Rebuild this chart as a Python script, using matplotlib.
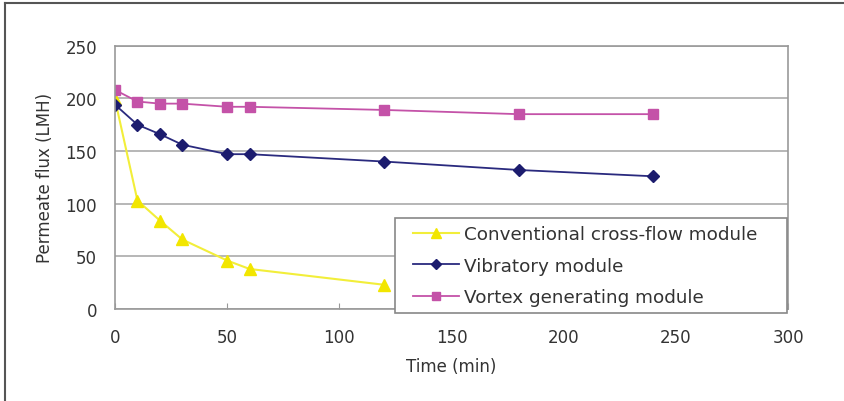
import matplotlib
matplotlib.use("Agg")
import matplotlib.pyplot as plt
from matplotlib.lines import Line2D
from matplotlib.patches import Rectangle

# Data
time_conv = [0, 10, 20, 30, 50, 60, 120]
flux_conv = [199, 103, 84, 66, 46, 38, 23]

time_vib = [0, 10, 20, 30, 50, 60, 120, 180, 240]
flux_vib = [194, 175, 166, 156, 147, 147, 140, 132, 126]

time_vortex = [0, 10, 20, 30, 50, 60, 120, 180, 240]
flux_vortex = [208, 197, 195, 195, 192, 192, 189, 185, 185]

labels = ["Conventional cross-flow module", "Vibratory module", "Vortex generating module"]

plt.rcParams["font.family"] = ["DejaVu Sans"]

W, H = 845, 402
fig = plt.figure(figsize=(W / 100, H / 100), dpi=100)
ax = fig.add_axes([115 / W, 1 - 310 / H, 673 / W, 263.3 / H])

ax.plot(time_conv, flux_conv, color="#F2EE3A", linewidth=1.5, marker="^",
        markersize=8, markerfacecolor="#F2E600", markeredgecolor="#F2E600", label=labels[0])
ax.plot(time_vib, flux_vib, color="#2A2A7E", linewidth=1.3, marker="D",
        markersize=6, markerfacecolor="#1C1C6E", markeredgecolor="#1C1C6E", label=labels[1])
ax.plot(time_vortex, flux_vortex, color="#C452A8", linewidth=1.3, marker="s",
        markersize=7, markerfacecolor="#C452A8", markeredgecolor="#C452A8", label=labels[2])

ax.set_xlim(0, 300)
ax.set_ylim(0, 250)
ax.set_xticks([0, 50, 100, 150, 200, 250, 300])
ax.set_yticks([0, 50, 100, 150, 200, 250])
ax.grid(axis="y", color="#AAAAAA", linewidth=1.2)
ax.set_axisbelow(True)
for s in ax.spines.values():
    s.set_color("#999999")
    s.set_linewidth(1.2)
ax.tick_params(axis="x", direction="in", length=4, color="#999999", labelsize=12,
               labelcolor="#333333", pad=14)
ax.tick_params(axis="y", length=0, labelsize=12, labelcolor="#333333", pad=13)

ax.set_xlabel("Time (min)", fontsize=12, color="#333333", va="center")
ax.xaxis.set_label_coords(0.5, (310 - 367) / 263.3)
ax.set_ylabel("Permeate flux (LMH)", fontsize=12, color="#333333", va="center")
ax.yaxis.set_label_coords((45 - 115) / 673, 0.5)

# legend frame drawn separately so its size matches the reference box
fig.add_artist(Rectangle((395 / W, 1 - 314 / H), 392 / W, 95 / H, transform=fig.transFigure,
                         facecolor="white", edgecolor="#888888", linewidth=1.2, zorder=5))
handles, _ = ax.get_legend_handles_labels()
leg = fig.legend(handles, labels, loc="upper left", bbox_to_anchor=(413 / W, 1 - 226 / H),
                 bbox_transform=fig.transFigure, fontsize=13.2, frameon=False,
                 handlelength=2.5, labelspacing=0.74, borderpad=0, handletextpad=0.3,
                 borderaxespad=0, markerscale=0.85)
leg.set_zorder(6)
for t in leg.get_texts():
    t.set_color("#333333")

# figure border (left and top only, as in the reference)
fig.add_artist(Line2D([5 / W, 5 / W], [0, 1 - 4 / H], transform=fig.transFigure,
                      color="#555555", linewidth=1.5))
fig.add_artist(Line2D([5 / W, 1], [1 - 4 / H, 1 - 4 / H], transform=fig.transFigure,
                      color="#555555", linewidth=1.5))

fig.savefig("out.png", dpi=100)
